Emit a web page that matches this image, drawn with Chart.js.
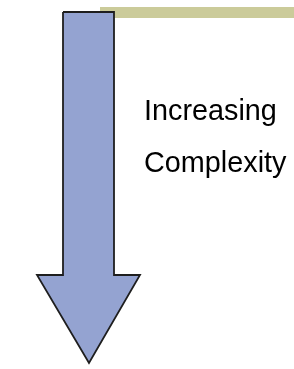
<!DOCTYPE html>
<html lang="en">
  <head>
    <meta charset="UTF-8" />
    <title>Increasing Complexity</title>
    <script src="https://cdn.jsdelivr.net/npm/chart.js"></script>
    <style>
      body {
        margin: 0;
        padding: 0;
        background: #fff;
      }
      #chart {
        display: block;
      }
    </style>
  </head>
  <body>
    <canvas id="chart" width="294" height="369"></canvas>

    <script>
      // arrow outline, clockwise from top-left of the shaft
      const arrowX = [63, 114, 114, 140, 89, 37, 63, 63];
      const arrowY = [12, 12, 275, 275, 363, 275, 275, 12];

      // olive strip at the top
      const stripX = [100, 294, 294, 100, 100];
      const stripY = [7, 7, 18, 18, 7];

      const labels = ["Increasing", "Complexity"];
      const labelX = [144, 144];
      const labelY = [120, 172];

      const toPoints = (xs, ys) => xs.map((x, i) => ({ x: x, y: ys[i] }));

      const textPlugin = {
        id: "labels",
        afterDatasetsDraw(chart) {
          const ctx = chart.ctx;
          const xs = chart.scales.x;
          const ys = chart.scales.y;
          ctx.save();
          ctx.fillStyle = "#000";
          ctx.font = '28.8px "Liberation Sans", Arial, sans-serif';
          ctx.textBaseline = "alphabetic";
          labels.forEach((t, i) => {
            ctx.fillText(t, xs.getPixelForValue(labelX[i]), ys.getPixelForValue(labelY[i]));
          });
          ctx.restore();
        },
      };

      new Chart(document.getElementById("chart"), {
        type: "line",
        data: {
          datasets: [
            {
              data: toPoints(arrowX, arrowY),
              borderColor: "#1e1e1e",
              borderWidth: 1.8,
              borderJoinStyle: "miter",
              backgroundColor: "#94a3d1",
              fill: "shape",
              pointRadius: 0,
              tension: 0,
              order: 1,
            },
            {
              data: toPoints(stripX, stripY),
              borderWidth: 0,
              backgroundColor: "#cbcb9a",
              fill: "shape",
              pointRadius: 0,
              tension: 0,
              order: 2,
            },
          ],
        },
        options: {
          responsive: false,
          animation: false,
          layout: { padding: 0 },
          plugins: {
            legend: { display: false },
            tooltip: { enabled: false },
          },
          scales: {
            x: { type: "linear", min: 0, max: 294, display: false },
            y: { type: "linear", min: 0, max: 369, reverse: true, display: false },
          },
        },
        plugins: [textPlugin],
      });
    </script>
  </body>
</html>
